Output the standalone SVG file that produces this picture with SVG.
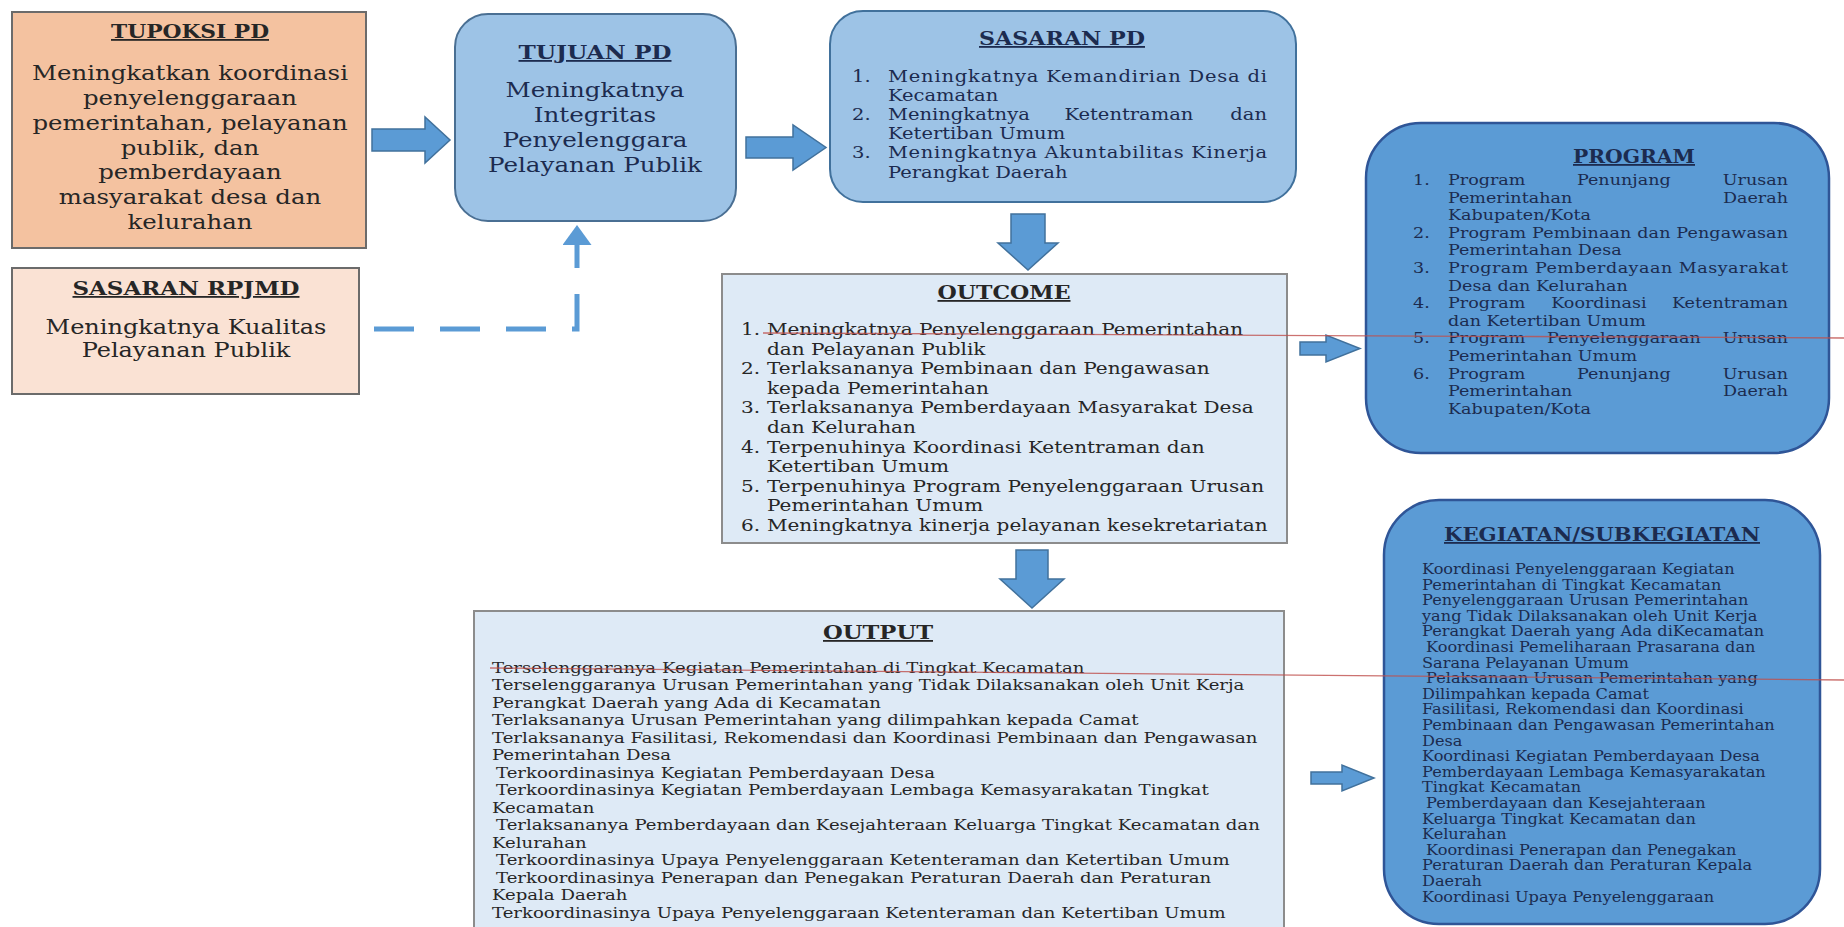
<svg xmlns="http://www.w3.org/2000/svg" width="1844" height="927" viewBox="0 0 1844 927">
<defs>
<style>
.t{font-family:"DejaVu Serif","Liberation Serif",serif;fill:#262626}
.ttl{font-weight:bold;text-decoration:underline;font-size:18px}
.c{text-anchor:middle}
.e{text-anchor:end}
.nv{fill:#1c2b4f}
.arr{fill:#5B9BD5;stroke:#41719C;stroke-width:1.5}
.rl{stroke:#c0504d;stroke-width:1.3;opacity:0.8}
</style>
<marker id="ah" viewBox="0 0 20 29" markerWidth="20" markerHeight="29" refX="5" refY="14.5" orient="auto" markerUnits="userSpaceOnUse">
<path d="M0,0 L20,14.5 L0,29 z" fill="#5B9BD5"/>
</marker>
</defs>
<rect width="1844" height="927" fill="#ffffff"/>

<g id="tupoksi">
<rect x="12" y="12" width="354" height="236" fill="#F4C2A0" stroke="#6b6b6b" stroke-width="2"/>
<text class="t ttl c" x="190" y="38" textLength="158" lengthAdjust="spacingAndGlyphs">TUPOKSI PD</text>
<g transform="matrix(1.22 0 0 1 -41.8 0)" font-size="20">
<text class="t c" x="190" y="80">Meningkatkan koordinasi</text>
<text class="t c" x="190" y="105">penyelenggaraan</text>
<text class="t c" x="190" y="130">pemerintahan, pelayanan</text>
<text class="t c" x="190" y="155">publik, dan</text>
<text class="t c" x="190" y="179">pemberdayaan</text>
<text class="t c" x="190" y="204">masyarakat desa dan</text>
<text class="t c" x="190" y="229">kelurahan</text>
</g>
</g>

<g id="sasaran-rpjmd">
<rect x="12" y="268" width="347" height="126" fill="#FAE2D4" stroke="#6b6b6b" stroke-width="2"/>
<text class="t ttl c" x="186" y="295" textLength="227" lengthAdjust="spacingAndGlyphs">SASARAN RPJMD</text>
<g transform="matrix(1.2 0 0 1 -37.2 0)" font-size="20">
<text class="t c" x="186" y="334">Meningkatnya Kualitas</text>
<text class="t c" x="186" y="357">Pelayanan Publik</text>
</g>
</g>

<g id="tujuan-pd">
<rect x="455" y="14" width="281" height="207" rx="33" fill="#9DC3E6" stroke="#4a6f93" stroke-width="2"/>
<text class="t ttl c nv" x="595" y="59" textLength="153" lengthAdjust="spacingAndGlyphs">TUJUAN PD</text>
<g transform="matrix(1.23 0 0 1 -136.85 0)" font-size="20">
<text class="t c nv" x="595" y="97">Meningkatnya</text>
<text class="t c nv" x="595" y="122">Integritas</text>
<text class="t c nv" x="595" y="147">Penyelenggara</text>
<text class="t c nv" x="595" y="172">Pelayanan Publik</text>
</g>
</g>

<g id="sasaran-pd">
<rect x="830" y="11" width="466" height="191" rx="33" fill="#9DC3E6" stroke="#41719C" stroke-width="2"/>
<text class="t ttl c nv" x="1062" y="45" textLength="166" lengthAdjust="spacingAndGlyphs">SASARAN PD</text>
<g transform="matrix(1.22 0 0 1 -187.44 0)" font-size="16">
<text class="t nv" x="852" y="82">1.</text>
<text class="t nv" x="881.5" y="82" textLength="310.7" lengthAdjust="spacing">Meningkatnya Kemandirian Desa di</text>
<text class="t nv" x="881.5" y="101">Kecamatan</text>
<text class="t nv" x="852" y="120">2.</text>
<text class="t nv" x="881.5" y="120">Meningkatnya</text>
<text class="t nv c" x="1079" y="120">Ketentraman</text>
<text class="t nv e" x="1192.2" y="120">dan</text>
<text class="t nv" x="881.5" y="139">Ketertiban Umum</text>
<text class="t nv" x="852" y="158">3.</text>
<text class="t nv" x="881.5" y="158" textLength="310.7" lengthAdjust="spacing">Meningkatnya Akuntabilitas Kinerja</text>
<text class="t nv" x="881.5" y="178">Perangkat Daerah</text>
</g>
</g>

<g id="outcome">
<rect x="722" y="274" width="565" height="269" fill="#DEEAF6" stroke="#8c8c8c" stroke-width="2"/>
<text class="t ttl c" x="1004" y="299" textLength="133" lengthAdjust="spacingAndGlyphs">OUTCOME</text>
<g transform="matrix(1.18 0 0 1 -133.38 0)" font-size="17">
<text class="t" x="741" y="335">1.</text>
<text class="t" x="763" y="335">Meningkatnya Penyelenggaraan Pemerintahan</text>
<text class="t" x="763" y="354.6">dan Pelayanan Publik</text>
<text class="t" x="741" y="374.2">2.</text>
<text class="t" x="763" y="374.2">Terlaksananya Pembinaan dan Pengawasan</text>
<text class="t" x="763" y="393.8">kepada Pemerintahan</text>
<text class="t" x="741" y="413.4">3.</text>
<text class="t" x="763" y="413.4">Terlaksananya Pemberdayaan Masyarakat Desa</text>
<text class="t" x="763" y="433">dan Kelurahan</text>
<text class="t" x="741" y="452.6">4.</text>
<text class="t" x="763" y="452.6">Terpenuhinya Koordinasi Ketentraman dan</text>
<text class="t" x="763" y="472.2">Ketertiban Umum</text>
<text class="t" x="741" y="491.8">5.</text>
<text class="t" x="763" y="491.8">Terpenuhinya Program Penyelenggaraan Urusan</text>
<text class="t" x="763" y="511.4">Pemerintahan Umum</text>
<text class="t" x="741" y="531">6.</text>
<text class="t" x="763" y="531">Meningkatnya kinerja pelayanan kesekretariatan</text>
</g>
</g>

<g id="output">
<rect x="474" y="611" width="810" height="330" fill="#DEEAF6" stroke="#8c8c8c" stroke-width="2"/>
<text class="t ttl c" x="878" y="639" textLength="110" lengthAdjust="spacingAndGlyphs">OUTPUT</text>
<g transform="matrix(1.207 0 0 1 -101.84 0)" font-size="15">
<text class="t" x="492" y="673">Terselenggaranya Kegiatan Pemerintahan di Tingkat Kecamatan</text>
<text class="t" x="492" y="690.5">Terselenggaranya Urusan Pemerintahan yang Tidak Dilaksanakan oleh Unit Kerja</text>
<text class="t" x="492" y="708">Perangkat Daerah yang Ada di Kecamatan</text>
<text class="t" x="492" y="725.5">Terlaksananya Urusan Pemerintahan yang dilimpahkan kepada Camat</text>
<text class="t" x="492" y="743">Terlaksananya Fasilitasi, Rekomendasi dan Koordinasi Pembinaan dan Pengawasan</text>
<text class="t" x="492" y="760.5">Pemerintahan Desa</text>
<text class="t" x="495.3" y="778">Terkoordinasinya Kegiatan Pemberdayaan Desa</text>
<text class="t" x="495.3" y="795.5">Terkoordinasinya Kegiatan Pemberdayaan Lembaga Kemasyarakatan Tingkat</text>
<text class="t" x="492" y="813">Kecamatan</text>
<text class="t" x="495.3" y="830.5">Terlaksananya Pemberdayaan dan Kesejahteraan Keluarga Tingkat Kecamatan dan</text>
<text class="t" x="492" y="848">Kelurahan</text>
<text class="t" x="495.3" y="865.5">Terkoordinasinya Upaya Penyelenggaraan Ketenteraman dan Ketertiban Umum</text>
<text class="t" x="495.3" y="883">Terkoordinasinya Penerapan dan Penegakan Peraturan Daerah dan Peraturan</text>
<text class="t" x="492" y="900.5">Kepala Daerah</text>
<text class="t" x="492" y="918">Terkoordinasinya Upaya Penyelenggaraan Ketenteraman dan Ketertiban Umum</text>
</g>
</g>

<g id="program">
<rect x="1366" y="123" width="463" height="330" rx="55" fill="#5B9BD5" stroke="#2F5597" stroke-width="2.5"/>
<text class="t ttl c nv" x="1634" y="163" textLength="122" lengthAdjust="spacingAndGlyphs" font-size="16">PROGRAM</text>
<g transform="matrix(1.17 0 0 1 -240.21 0)" font-size="15">
<text class="t nv" x="1413" y="185">1.</text>
<text class="t nv" x="1442.9" y="185">Program</text>
<text class="t nv c" x="1593.2" y="185">Penunjang</text>
<text class="t nv e" x="1733.5" y="185">Urusan</text>
<text class="t nv" x="1442.9" y="202.6">Pemerintahan</text>
<text class="t nv e" x="1733.5" y="202.6">Daerah</text>
<text class="t nv" x="1442.9" y="220.2">Kabupaten/Kota</text>
<text class="t nv" x="1413" y="237.8">2.</text>
<text class="t nv" x="1442.9" y="237.8" textLength="290.6" lengthAdjust="spacing">Program Pembinaan dan Pengawasan</text>
<text class="t nv" x="1442.9" y="255.4">Pemerintahan Desa</text>
<text class="t nv" x="1413" y="273">3.</text>
<text class="t nv" x="1442.9" y="273" textLength="290.6" lengthAdjust="spacing">Program Pemberdayaan Masyarakat</text>
<text class="t nv" x="1442.9" y="290.6">Desa dan Kelurahan</text>
<text class="t nv" x="1413" y="308.2">4.</text>
<text class="t nv" x="1442.9" y="308.2">Program</text>
<text class="t nv c" x="1571.9" y="308.2">Koordinasi</text>
<text class="t nv e" x="1733.5" y="308.2">Ketentraman</text>
<text class="t nv" x="1442.9" y="325.8">dan Ketertiban Umum</text>
<text class="t nv" x="1413" y="343.4">5.</text>
<text class="t nv" x="1442.9" y="343.4">Program</text>
<text class="t nv c" x="1593.2" y="343.4">Penyelenggaraan</text>
<text class="t nv e" x="1733.5" y="343.4">Urusan</text>
<text class="t nv" x="1442.9" y="361">Pemerintahan Umum</text>
<text class="t nv" x="1413" y="378.6">6.</text>
<text class="t nv" x="1442.9" y="378.6">Program</text>
<text class="t nv c" x="1593.2" y="378.6">Penunjang</text>
<text class="t nv e" x="1733.5" y="378.6">Urusan</text>
<text class="t nv" x="1442.9" y="396.2">Pemerintahan</text>
<text class="t nv e" x="1733.5" y="396.2">Daerah</text>
<text class="t nv" x="1442.9" y="413.8">Kabupaten/Kota</text>
</g>
</g>

<g id="kegiatan">
<rect x="1384" y="500" width="436" height="424" rx="55" fill="#5B9BD5" stroke="#2F5597" stroke-width="2.5"/>
<text class="t ttl c nv" x="1602" y="541" textLength="316" lengthAdjust="spacingAndGlyphs" font-size="16">KEGIATAN/SUBKEGIATAN</text>
<g transform="matrix(1.155 0 0 1 -220.41 0)" font-size="14">
<text class="t nv" x="1422" y="574">Koordinasi Penyelenggaraan Kegiatan</text>
<text class="t nv" x="1422" y="589.6">Pemerintahan di Tingkat Kecamatan</text>
<text class="t nv" x="1422" y="605.2">Penyelenggaraan Urusan Pemerintahan</text>
<text class="t nv" x="1422" y="620.8">yang Tidak Dilaksanakan oleh Unit Kerja</text>
<text class="t nv" x="1422" y="636.4">Perangkat Daerah yang Ada diKecamatan</text>
<text class="t nv" x="1425.5" y="652">Koordinasi Pemeliharaan Prasarana dan</text>
<text class="t nv" x="1422" y="667.6">Sarana Pelayanan Umum</text>
<text class="t nv" x="1425.5" y="683.2">Pelaksanaan Urusan Pemerintahan yang</text>
<text class="t nv" x="1422" y="698.8">Dilimpahkan kepada Camat</text>
<text class="t nv" x="1422" y="714.4">Fasilitasi, Rekomendasi dan Koordinasi</text>
<text class="t nv" x="1422" y="730">Pembinaan dan Pengawasan Pemerintahan</text>
<text class="t nv" x="1422" y="745.6">Desa</text>
<text class="t nv" x="1422" y="761.2">Koordinasi Kegiatan Pemberdayaan Desa</text>
<text class="t nv" x="1422" y="776.8">Pemberdayaan Lembaga Kemasyarakatan</text>
<text class="t nv" x="1422" y="792.4">Tingkat Kecamatan</text>
<text class="t nv" x="1425.5" y="808">Pemberdayaan dan Kesejahteraan</text>
<text class="t nv" x="1422" y="823.6">Keluarga Tingkat Kecamatan dan</text>
<text class="t nv" x="1422" y="839.2">Kelurahan</text>
<text class="t nv" x="1425.5" y="854.8">Koordinasi Penerapan dan Penegakan</text>
<text class="t nv" x="1422" y="870.4">Peraturan Daerah dan Peraturan Kepala</text>
<text class="t nv" x="1422" y="886">Daerah</text>
<text class="t nv" x="1422" y="901.6">Koordinasi Upaya Penyelenggaraan</text>
</g>
</g>

<g id="connectors">
<polygon class="arr" points="372,129 425,129 425,117 450,140 425,163 425,151 372,151"/>
<polygon class="arr" points="746,137 793,137 793,125 826,147.5 793,170 793,158 746,158"/>
<polygon class="arr" points="1011,214 1045,214 1045,243 1058,243 1028,270 998,243 1011,243"/>
<polygon class="arr" points="1016,550 1048,550 1048,579 1064,579 1032,608 1000,579 1016,579"/>
<polygon class="arr" points="1300,342 1326,342 1326,335 1360,348.5 1326,362 1326,355 1300,355"/>
<polygon class="arr" points="1311,772 1342,772 1342,765 1374,778 1342,791 1342,784 1311,784"/>
<path d="M374,329 H577 V240" fill="none" stroke="#5B9BD5" stroke-width="5" stroke-dasharray="40 26" marker-end="url(#ah)"/>
</g>

<line class="rl" x1="763" y1="333" x2="1844" y2="338"/>
<line class="rl" x1="490" y1="668" x2="1844" y2="680"/>
</svg>
